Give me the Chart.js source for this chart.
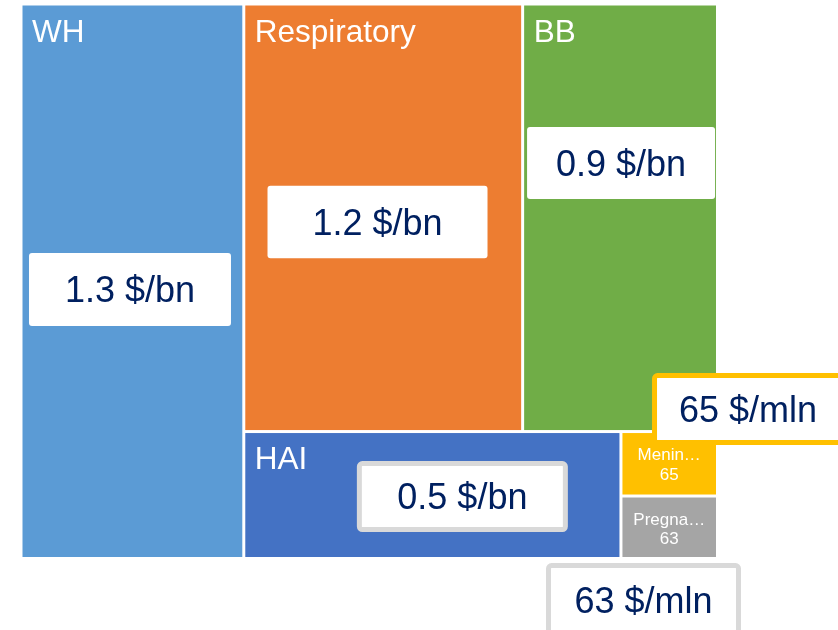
<!DOCTYPE html>
<html>
<head>
<meta charset="utf-8">
<script src="https://cdn.jsdelivr.net/npm/chart.js@4/dist/chart.umd.min.js"></script>
<style>
  html, body { margin: 0; padding: 0; background: #fff; }
  #wrap { width: 838px; height: 630px; }
</style>
</head>
<body>
<div id="wrap"><canvas id="tree"></canvas></div>
<script>
// ── Data ──
const names      = ['WH', 'Respiratory', 'BB', 'HAI', 'Meningitis', 'Pregnancy'];
const values     = [1.29, 1.245, 0.87, 0.5, 0.065, 0.063];          // $ bn
const cellValues = ['', '', '', '', '65', '63'];                    // shown inside small cells ($ mln)
const callouts   = ['1.3 $/bn', '1.2 $/bn', '0.9 $/bn', '0.5 $/bn', '65 $/mln', '63 $/mln'];
// nesting of the slice-and-dice layout (indices into the arrays above)
const tree       = [0, [[1, 2], [3, [4, 5]]]];

// ── Styles ──
const COLORS     = ['#5B9BD5', '#ED7D31', '#70AD47', '#4472C4', '#FFC000', '#A5A5A5'];
const BOX_BORDER = [null, null, null, '#D9D9D9', '#FFC000', '#D9D9D9'];
const BOX_SIZE   = [[202, 73], [220, 72.5], [188, 72], [211, 71], [192, 72], [195, 74]];
const BOX_SHIFT  = [[-2.4, 8.25], [-5.7, 4.25], [1, -54.75], [30, 1.5], [78.8, -54.7], [-25.7, 72.8]];
const FONT       = "'Liberation Sans', Arial, sans-serif";

const sumOf = n => Array.isArray(n) ? n.reduce((s, c) => s + sumOf(c), 0) : values[n];

// split a rect among the children, alternating direction each level
function layout(node, x0, y0, x1, y1, horiz, out) {
  if (!Array.isArray(node)) { out[node] = { x0, y0, x1, y1 }; return out; }
  const total = sumOf(node);
  let pos = horiz ? x0 : y0;
  node.forEach(child => {
    const span = (horiz ? x1 - x0 : y1 - y0) * sumOf(child) / total;
    if (horiz) layout(child, pos, y0, pos + span, y1, !horiz, out);
    else       layout(child, x0, pos, x1, pos + span, !horiz, out);
    pos += span;
  });
  return out;
}

function fitText(ctx, txt, maxW) {
  if (ctx.measureText(txt).width <= maxW) return txt;
  let s = txt;
  while (s.length > 1 && ctx.measureText(s + '…').width > maxW) s = s.slice(0, -1);
  return s + '…';
}

const treemapPlugin = {
  id: 'treemap',
  afterDraw(chart) {
    const { ctx, scales: { x, y } } = chart;
    const cells = layout(tree, 0, 0, 1, 1, true, []);
    const rects = cells.map(c => ({
      l: x.getPixelForValue(c.x0), r: x.getPixelForValue(c.x1),
      t: y.getPixelForValue(c.y0), b: y.getPixelForValue(c.y1)
    }));
    ctx.save();

    // ── Cells ──
    rects.forEach((rc, i) => {
      const g = 1.5;
      ctx.fillStyle = COLORS[i];
      ctx.fillRect(rc.l + g, rc.t + g, rc.r - rc.l - 2 * g, rc.b - rc.t - 2 * g);
      ctx.fillStyle = '#FFFFFF';
      if (cellValues[i]) {
        ctx.font = '17px ' + FONT;
        ctx.textAlign = 'center';
        ctx.textBaseline = 'alphabetic';
        const cx = (rc.l + rc.r) / 2;
        ctx.fillText(fitText(ctx, names[i], rc.r - rc.l - 24.4), cx, rc.t + 28.5);
        ctx.fillText(cellValues[i], cx, rc.t + 48);
      } else {
        ctx.font = '31.5px ' + FONT;
        ctx.textAlign = 'left';
        ctx.textBaseline = 'alphabetic';
        ctx.fillText(fitText(ctx, names[i], rc.r - rc.l - 19), rc.l + 11, rc.t + 37.5);
      }
    });

    // ── Callout boxes ──
    rects.forEach((rc, i) => {
      const [w, h] = BOX_SIZE[i];
      const cx = (rc.l + rc.r) / 2 + BOX_SHIFT[i][0];
      const cy = (rc.t + rc.b) / 2 + BOX_SHIFT[i][1];
      const bw = BOX_BORDER[i] ? 5 : 0;
      ctx.beginPath();
      ctx.roundRect(cx - w / 2 + bw / 2, cy - h / 2 + bw / 2, w - bw, h - bw, 3);
      ctx.fillStyle = '#FFFFFF';
      ctx.fill();
      if (bw) { ctx.lineWidth = bw; ctx.strokeStyle = BOX_BORDER[i]; ctx.stroke(); }
      ctx.fillStyle = '#002060';
      ctx.font = '36px ' + FONT;
      ctx.textAlign = 'center';
      ctx.textBaseline = 'alphabetic';
      ctx.fillText(callouts[i], cx, cy + 12.9);
    });
    ctx.restore();
  }
};

new Chart(document.getElementById('tree'), {
  type: 'scatter',
  data: { datasets: [{ data: [], pointRadius: 0 }] },
  options: {
    responsive: true,
    maintainAspectRatio: false,
    animation: false,
    layout: { padding: { left: 21, top: 4, right: 120.5, bottom: 71.5 } },
    plugins: { legend: { display: false }, tooltip: { enabled: false } },
    scales: {
      x: { type: 'linear', min: 0, max: 1, display: false },
      y: { type: 'linear', min: 0, max: 1, reverse: true, display: false }
    }
  },
  plugins: [treemapPlugin]
});
</script>
</body>
</html>
